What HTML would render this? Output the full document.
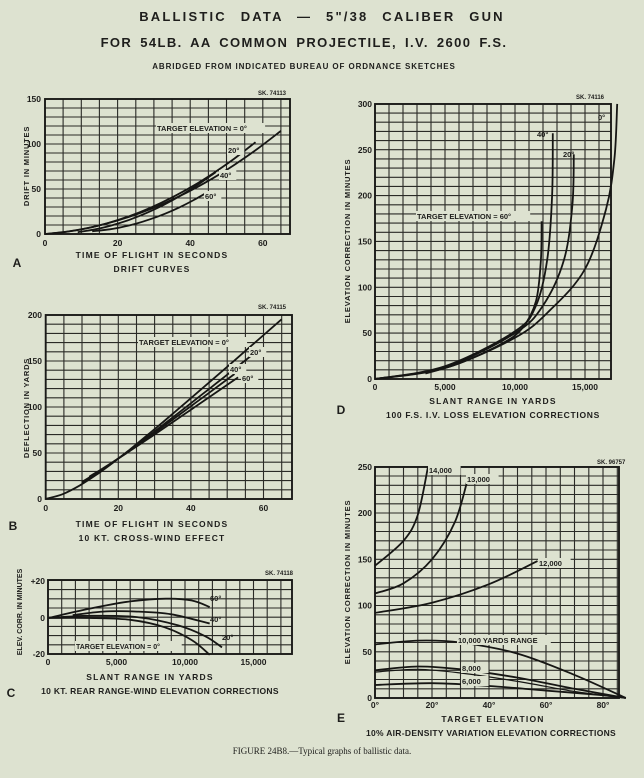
<!DOCTYPE html>
<html><head><meta charset="utf-8"><style>
html,body{margin:0;padding:0;background:#dde2d0;}
svg{display:block;}
text{font-family:"Liberation Sans",sans-serif;font-weight:bold;fill:#1e1e1c;}
</style></head><body>
<svg id="s" width="644" height="778" viewBox="0 0 644 778" xmlns="http://www.w3.org/2000/svg">
<rect width="644" height="778" fill="#dde2d0"/>
<text x="322" y="21" text-anchor="middle" font-size="13" letter-spacing="2.2" word-spacing="8">BALLISTIC DATA — 5"/38 CALIBER GUN</text>
<text x="304" y="47" text-anchor="middle" font-size="13" letter-spacing="1.4" word-spacing="3">FOR 54LB. AA COMMON PROJECTILE, I.V. 2600 F.S.</text>
<text x="304" y="69" text-anchor="middle" font-size="8" letter-spacing="0.9">ABRIDGED FROM INDICATED BUREAU OF ORDNANCE SKETCHES</text>
<text x="322" y="754" text-anchor="middle" font-size="9" style="font-family:'Liberation Serif',serif;font-weight:normal">FIGURE 24B8.—Typical graphs of ballistic data.</text>
</svg>
<script>
var S=document.getElementById('s'),NS='http://www.w3.org/2000/svg';
function el(t,a,txt){var e=document.createElementNS(NS,t);for(var k in a)e.setAttribute(k,a[k]);if(txt!=null)e.textContent=txt;S.appendChild(e);return e;}
function T(x,y,s,sz,anc,extra){var a={x:x,y:y,'font-size':sz||8,'text-anchor':anc||'middle'};if(extra)for(var k in extra)a[k]=extra[k];return el('text',a,s);}
function chart(c){
  var g='';
  for(var x=c.x0;x<=c.x1+0.5;x+=c.gx)g+='M'+x.toFixed(1)+' '+c.y1+'V'+c.y0;
  for(var y=c.y0;y>=c.y1-0.5;y-=c.gy)g+='M'+c.x0+' '+y.toFixed(1)+'H'+c.x1;
  el('path',{d:g,stroke:'#2a2a26','stroke-width':1.1,fill:'none'});
  el('rect',{x:c.x0,y:c.y1,width:c.x1-c.x0,height:c.y0-c.y1,fill:'none',stroke:'#1a1a18','stroke-width':1.9});
}
function curve(pts,mx,my,w){
  var P=pts.map(function(p){return [mx(p[0]),my(p[1])];});
  var d='M'+P[0][0].toFixed(1)+' '+P[0][1].toFixed(1);
  for(var i=0;i<P.length-1;i++){
    var p0=P[i-1]||P[i],p1=P[i],p2=P[i+1],p3=P[i+2]||P[i+1];
    var c1=[p1[0]+(p2[0]-p0[0])/6,p1[1]+(p2[1]-p0[1])/6],c2=[p2[0]-(p3[0]-p1[0])/6,p2[1]-(p3[1]-p1[1])/6];
    d+='C'+c1[0].toFixed(1)+' '+c1[1].toFixed(1)+' '+c2[0].toFixed(1)+' '+c2[1].toFixed(1)+' '+p2[0].toFixed(1)+' '+p2[1].toFixed(1);
  }
  el('path',{d:d,stroke:'#161614','stroke-width':w||1.8,fill:'none'});
}
function fn(f,a,b,n){var r=[];for(var i=0;i<=n;i++){var t=a+(b-a)*i/n;r.push([t,f(t)]);}return r;}
function lab(x,y,s,sz){el('rect',{x:x-1,y:y-8,width:s.length*(sz||7)*0.68+2,height:10,fill:'#dde2d0'});T(x,y,s,sz||7,'start');}

// ---- A ----
(function(){
 var mx=function(t){return 45+t*3.63;},my=function(v){return 234-v*0.9;};
 chart({x0:45,x1:290,y0:234,y1:99,gx:18.15,gy:9});
 [[0,'0'],[20,'20'],[40,'40'],[60,'60']].forEach(function(a){T(mx(a[0]),246,a[1],8.5);});
 [[0,'0'],[50,'50'],[100,'100'],[150,'150']].forEach(function(a){T(41,my(a[0])+3,a[1],8.5,'end');});
 T(29,166,'DRIFT IN MINUTES',7.5,'middle',{transform:'rotate(-90 29 166)','letter-spacing':'0.8'});
 T(258,95,'SK. 74113',6,'start');
 curve(fn(function(t){return .3*t+.0225*t*t;},0,65,10),mx,my);
 curve(fn(function(t){return .25*t+.026*t*t;},0,58,10),mx,my);
 curve(fn(function(t){return 2+.5*(t-9)+.033*(t-9)*(t-9);},9,47,8),mx,my);
 curve(fn(function(t){return 3+.3*(t-13)+.0336*(t-13)*(t-13);},13,45,8),mx,my);
 lab(157,131,'TARGET ELEVATION = 0°',7.5);
 lab(228,153,'20°',7.5);lab(220,178,'40°',7.5);lab(205,199,'60°',7.5);
 T(152,258,'TIME OF FLIGHT IN SECONDS',8.5,'middle',{'letter-spacing':'1.2'});
 T(152,272,'DRIFT CURVES',8.5,'middle',{'letter-spacing':'1.2'});
 T(17,267,'A',12,'middle');
})();
// ---- B ----
(function(){
 var mx=function(t){return 45.7+t*3.63;},my=function(v){return 499-v*0.92;};
 chart({x0:45.7,x1:292,y0:499,y1:315,gx:18.15,gy:9.2});
 [[0,'0'],[20,'20'],[40,'40'],[60,'60']].forEach(function(a){T(mx(a[0]),511,a[1],8.5);});
 [[0,'0'],[50,'50'],[100,'100'],[150,'150'],[200,'200']].forEach(function(a){T(42,my(a[0])+3,a[1],8.5,'end');});
 T(29,408,'DEFLECTION IN YARDS',7.5,'middle',{transform:'rotate(-90 29 408)','letter-spacing':'0.8'});
 T(258,309,'SK. 74115',6,'start');
 function mk(s,c){return function(t){return s*t-c*(1-Math.exp(-t/10));};}
 curve(fn(mk(3.45,29),0,65,14),mx,my);
 curve(fn(mk(3.13,21.5),10,57,12),mx,my);
 curve(fn(mk(2.94,17.1),10,52,12),mx,my);
 curve(fn(mk(2.72,12),12,53,12),mx,my);
 lab(139,345,'TARGET ELEVATION = 0°',7.5);
 lab(250,355,'20°',7.5);lab(230,372,'40°',7.5);lab(242,381,'60°',7.5);
 T(152,527,'TIME OF FLIGHT IN SECONDS',8.5,'middle',{'letter-spacing':'1.2'});
 T(152,541,'10 KT.  CROSS-WIND EFFECT',8.5,'middle',{'letter-spacing':'1.2'});
 T(13,530,'B',12,'middle');
})();
// ---- C ----
(function(){
 var mx=function(x){return 48+x*0.0137;},my=function(v){return 618-v*1.84;};
 chart({x0:48,x1:292,y0:654,y1:580,gx:13.7,gy:9.2});
 [[0,'0'],[5000,'5,000'],[10000,'10,000'],[15000,'15,000']].forEach(function(a){T(mx(a[0]),665,a[1],8.5);});
 T(45,584,'+20',8.5,'end');T(45,621,'0',8.5,'end');T(45,657,'-20',8.5,'end');
 T(22,612,'ELEV. CORR. IN MINUTES',7,'middle',{transform:'rotate(-90 22 612)'});
 T(265,575,'SK. 74118',6,'start');
 curve([[0,0],[3000,5],[6000,9],[8600,10.5],[10500,9.5],[11800,6]],mx,my);
 curve([[1800,1.5],[4000,3.5],[6500,3.5],[9000,2],[11800,-3]],mx,my);
 curve([[0,0],[3000,1.2],[6500,0.5],[9500,-4],[11500,-10],[12700,-16]],mx,my);
 curve([[0,0],[3000,0],[6000,-1],[8500,-5],[10500,-12],[11800,-20]],mx,my);
 lab(76,649,'TARGET ELEVATION =  0°',7);
 T(210,601,'60°',7.5,'start');T(210,622,'40°',7.5,'start');T(222,640,'20°',7.5,'start');
 T(150,680,'SLANT RANGE IN YARDS',8.5,'middle',{'letter-spacing':'1.2'});
 T(160,694,'10 KT. REAR RANGE-WIND ELEVATION CORRECTIONS',8.5,'middle',{'letter-spacing':'0.3'});
 T(11,697,'C',12,'middle');
})();
// ---- D ----
(function(){
 var mx=function(x){return 375+x*0.014;},my=function(v){return 379-v*0.917;};
 chart({x0:375,x1:611,y0:379,y1:104,gx:14,gy:9.17});
 [[0,'0'],[5000,'5,000'],[10000,'10,000'],[15000,'15,000']].forEach(function(a){T(mx(a[0]),390,a[1],8.5);});
 [0,50,100,150,200,250,300].forEach(function(v){T(372,my(v)+3,''+v,8.5,'end');});
 T(350,241,'ELEVATION CORRECTION IN MINUTES',7.5,'middle',{transform:'rotate(-90 350 241)','letter-spacing':'0.8'});
 T(576,99,'SK. 74116',6,'start');
 curve([[0,0],[5000,12],[10000,45],[12500,75],[15000,120],[16500,185],[17100,240],[17300,300]],mx,my);
 curve([[0,0],[5000,13],[10000,50],[12000,80],[13500,130],[14100,190],[14200,245]],mx,my);
 curve([[0,0],[5000,14],[10000,52],[11500,80],[12300,130],[12650,200],[12700,268]],mx,my);
 curve([[3600,6],[6000,17],[9000,38],[10500,55],[11500,85],[11850,130],[11900,172]],mx,my);
 lab(417,219,'TARGET ELEVATION = 60°',7.5);
 T(537,137,'40°',7.5,'start');T(563,157,'20°',7.5,'start');T(598,120,'0°',7.5,'start');
 T(493,404,'SLANT RANGE IN YARDS',8.5,'middle',{'letter-spacing':'1.2'});
 T(493,418,'100 F.S. I.V. LOSS ELEVATION CORRECTIONS',8.5,'middle',{'letter-spacing':'0.7'});
 T(341,414,'D',12,'middle');
})();
// ---- E ----
(function(){
 var mx=function(x){return 375+x*2.85;},my=function(v){return 698-v*0.925;};
 chart({x0:375,x1:619,y0:698,y1:467,gx:14.25,gy:9.25});
 [[0,'0°'],[20,'20°'],[40,'40°'],[60,'60°'],[80,'80°']].forEach(function(a){T(mx(a[0]),708,a[1],8.5);});
 [0,50,100,150,200,250].forEach(function(v){T(372,my(v)+3,''+v,8.5,'end');});
 T(350,582,'ELEVATION CORRECTION IN MINUTES',7.5,'middle',{transform:'rotate(-90 350 582)','letter-spacing':'0.8'});
 T(597,464,'SK. 96757',6,'start');
 curve([[0,143],[10,170],[15,198],[18.6,250]],mx,my);
 curve([[0,113],[10,124],[20,150],[28,190],[32.5,236]],mx,my);
 curve([[0,92],[20,103],[40,123],[57,148]],mx,my);
 curve([[0,58],[15,62],[30,60],[50,48],[70,25],[88,0]],mx,my);
 curve([[0,30],[15,34],[30,31],[50,22],[70,10],[88,0]],mx,my);
 curve([[0,28],[15,31],[30,27],[50,18],[70,7],[88,0]],mx,my,1.2);
 curve([[0,14],[20,16],[40,13],[60,8],[80,3],[88,0]],mx,my);
 lab(429,473,'14,000',7.5);lab(467,482,'13,000',7.5);lab(539,566,'12,000',7.5);
 lab(458,643,'10,000 YARDS RANGE',7.5);lab(462,671,'8,000',7.5);lab(462,684,'6,000',7.5);
 T(493,722,'TARGET ELEVATION',8.5,'middle',{'letter-spacing':'1.2'});
 T(491,736,'10% AIR-DENSITY VARIATION ELEVATION CORRECTIONS',8.5,'middle',{'letter-spacing':'0.3'});
 T(341,722,'E',12,'middle');
})();
</script>
</body></html>
